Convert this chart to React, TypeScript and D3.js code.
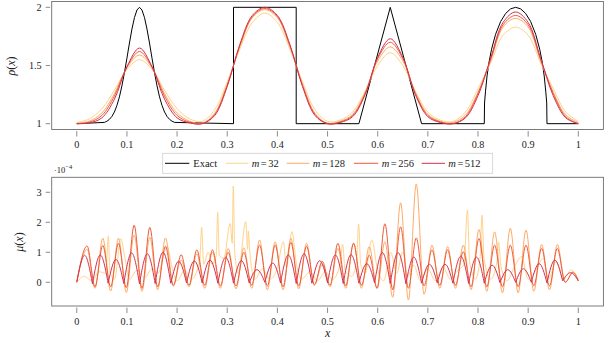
import React from 'react';
import * as d3 from 'd3';

// ---------- tick labels ----------
const xTicks = [0, 0.1, 0.2, 0.3, 0.4, 0.5, 0.6, 0.7, 0.8, 0.9, 1];
const xTickLabels = ['0', '0.1', '0.2', '0.3', '0.4', '0.5', '0.6', '0.7', '0.8', '0.9', '1'];
const rhoTicks = [1, 1.5, 2];
const rhoTickLabels = ['1', '1.5', '2'];
const muTicks = [0, 1, 2, 3];
const muTickLabels = ['0', '1', '2', '3'];

const seriesNames = ['Exact', '32', '128', '256', '512'];
const seriesColors = ['#000000', '#fed38c', '#fdaa68', '#ef5b3b', '#d33150'];

// ---------- top panel: exact solution ----------
const exactX = [0, 0.055, 0.06, 0.065, 0.07, 0.075, 0.08, 0.085, 0.09, 0.095, 0.1, 0.105, 0.11, 0.115, 0.12, 0.125,
  0.13, 0.135, 0.14, 0.145, 0.15, 0.155, 0.16, 0.165, 0.17, 0.175, 0.18, 0.185, 0.19, 0.195,
  0.3125, 0.3125, 0.4375, 0.4375,
  0.5625, 0.625, 0.6875,
  0.8125, 0.813, 0.815, 0.818, 0.822, 0.827, 0.835, 0.845, 0.855, 0.865, 0.875, 0.885, 0.895, 0.905, 0.915, 0.923, 0.928, 0.932, 0.935, 0.937, 0.9375,
  1];
const exactRho = [1, 1.011, 1.021, 1.037, 1.062, 1.1, 1.156, 1.23, 1.325, 1.438, 1.563, 1.693, 1.813, 1.912, 1.977, 2,
  1.977, 1.912, 1.813, 1.693, 1.563, 1.438, 1.325, 1.23, 1.156, 1.1, 1.062, 1.037, 1.021, 1.011,
  1, 2, 2, 1,
  1, 2, 1,
  1, 1.178, 1.28, 1.41, 1.53, 1.64, 1.768, 1.877, 1.947, 1.987, 2, 1.987, 1.947, 1.877, 1.768, 1.64, 1.53, 1.41, 1.28, 1.178, 1,
  1];

// ---------- top panel: approximations on a 0.025 grid ----------
const gridX = [0, 0.025, 0.05, 0.075, 0.1, 0.125, 0.15, 0.175, 0.2, 0.225, 0.25, 0.275, 0.3, 0.325, 0.35, 0.375, 0.4,
  0.425, 0.45, 0.475, 0.5, 0.525, 0.55, 0.575, 0.6, 0.625, 0.65, 0.675, 0.7, 0.725, 0.75, 0.775, 0.8, 0.825, 0.85,
  0.875, 0.9, 0.925, 0.95, 0.975, 1];
const rho32 = [1.01, 1.041, 1.128, 1.287, 1.467, 1.55, 1.467, 1.287, 1.128, 1.041, 1.02, 1.12, 1.36, 1.64, 1.87, 1.95, 1.87,
  1.64, 1.36, 1.12, 1.02, 1.03, 1.1, 1.28, 1.5, 1.61, 1.5, 1.28, 1.1, 1.03, 1.02, 1.1, 1.3, 1.52, 1.76, 1.83, 1.76, 1.52,
  1.3, 1.1, 1.02];
const rho128 = [1.005, 1.022, 1.092, 1.258, 1.48, 1.59, 1.48, 1.258, 1.092, 1.022, 1.005, 1.09, 1.34, 1.66, 1.91, 1.98, 1.91,
  1.66, 1.34, 1.09, 1.005, 1.02, 1.08, 1.27, 1.54, 1.66, 1.54, 1.27, 1.08, 1.02, 1.01, 1.075, 1.27, 1.54, 1.83, 1.905,
  1.83, 1.54, 1.27, 1.075, 1.01];
const rho256 = [1, 1.013, 1.071, 1.237, 1.487, 1.62, 1.487, 1.237, 1.071, 1.013, 1, 1.08, 1.33, 1.67, 1.92, 1.99, 1.92,
  1.67, 1.33, 1.08, 1, 1.015, 1.07, 1.26, 1.56, 1.7, 1.56, 1.26, 1.07, 1.015, 1, 1.06, 1.26, 1.55, 1.85, 1.93, 1.85, 1.55,
  1.26, 1.06, 1];
const rho512 = [1, 1.007, 1.05, 1.21, 1.49, 1.65, 1.49, 1.21, 1.05, 1.007, 1, 1.07, 1.32, 1.68, 1.93, 2, 1.93, 1.68, 1.32,
  1.07, 1, 1.01, 1.06, 1.25, 1.57, 1.73, 1.57, 1.25, 1.06, 1.01, 1, 1.05, 1.24, 1.56, 1.87, 1.96, 1.87, 1.56, 1.24, 1.05, 1];

// ---------- bottom panel (units of 1e-4) ----------
// m = 32: irregular, spiky curve read point by point
const mu32X = [0, 0.015, 0.03, 0.045, 0.058, 0.063, 0.066, 0.075, 0.088, 0.095, 0.105, 0.12, 0.135, 0.15, 0.162, 0.18, 0.19,
  0.2, 0.215, 0.228, 0.245, 0.249, 0.253, 0.262, 0.27, 0.278, 0.281, 0.284, 0.293, 0.306, 0.31, 0.312, 0.315, 0.322,
  0.337, 0.3405, 0.342, 0.345, 0.355, 0.37, 0.385, 0.4, 0.412, 0.418, 0.429, 0.438, 0.448, 0.465, 0.48, 0.495, 0.51,
  0.525, 0.53, 0.535, 0.548, 0.558, 0.562, 0.566, 0.575, 0.588, 0.6, 0.612, 0.626, 0.638, 0.65, 0.66, 0.672, 0.685,
  0.7, 0.715, 0.73, 0.745, 0.76, 0.772, 0.779, 0.783, 0.795, 0.804, 0.808, 0.812, 0.825, 0.838, 0.841, 0.846, 0.858,
  0.872, 0.887, 0.9, 0.915, 0.93, 0.94, 0.956, 0.97, 0.986, 1];
const mu32 = [0, 0.2, 0.05, 0.35, 0.3, 1.55, 0.35, 0.1, 1.45, 0.9, 0.1, 0.4, 0.15, 0.45, 0.3, 1.2, 0.5,
  0.05, 0.4, 0.1, 0.7, 1.83, 0.6, 1.0, 0.6, 0.9, 2.33, 0.9, 0.8, 1.96, 1.3, 3.21, 1.0, 0.3,
  2.02, 1.1, 1.71, 1.0, 0.1, 0.45, 0.1, 0.5, 1.36, 0.5, 1.69, 0.6, 0.1, 0.35, 0.05, 0.35, 0.1,
  0.6, 1.27, 0.4, 0.2, 0.7, 1.94, 0.6, 0.3, 1.41, 0.4, 0.05, 1.0, 0.3, 1.02, 0.2, 0.57, 0.05,
  0.45, 0.05, 0.5, 0.1, 0.41, 0.6, 2.41, 0.7, 0.1, 0.8, 2.24, 0.8, 0.1, 0.7, 1.35, 0.5, 0.05,
  0.5, 0.85, 0.1, 0.4, 0.8, 0.1, 0.69, 0.1, 0.41, 0.08];

// m = 128, 256, 512: one hump per cell of width 1/32 (peak values, then trough values at cell edges)
const mu128Peaks = [1.1, 1.47, 1.47, 1.58, 1.5, 1.48, 0.75, 0.95, 1.0, 1.13, 1.15, 1.41, 1.35, 1.47, 1.3, 0.6,
  1.13, 1.3, 1.19, 1.35, 2.65, 3.28, 1.24, 1.19, 1.24, 1.76, 1.68, 1.8, 1.74, 1.26, 1.26, 0.35];
const mu128Troughs = [0, -0.2, -0.29, -0.34, -0.3, -0.25, -0.09, -0.15, -0.2, -0.2, -0.22, -0.2, -0.25, -0.25, -0.22,
  -0.1, -0.15, -0.2, -0.2, -0.2, -0.5, -0.59, -0.4, -0.2, -0.2, -0.25, -0.3, -0.35, -0.35, -0.3, -0.25, 0, 0.05];
const mu256Peaks = [1.21, 1.23, 1.3, 1.9, 1.83, 1.2, 0.92, 1.08, 1.08, 1.0, 1.0, 1.24, 1.24, 1.33, 1.2, 0.7,
  1.3, 1.3, 0.9, 1.95, 1.85, 1.48, 1.08, 1.08, 1.02, 1.46, 1.24, 1.24, 1.24, 1.13, 1.13, 0.32];
const mu256Troughs = [0, -0.15, -0.15, -0.18, -0.2, -0.15, -0.12, -0.1, -0.1, -0.12, -0.12, -0.1, -0.12, -0.15, -0.12,
  -0.08, -0.1, -0.12, -0.1, -0.2, -0.25, -0.2, -0.12, -0.1, -0.1, -0.15, -0.15, -0.15, -0.15, -0.12, -0.12, 0, 0.05];
const mu512Peaks = [0.9, 0.91, 0.76, 0.98, 0.95, 1.0, 0.7, 0.71, 0.74, 0.83, 0.72, 0.42, 0.64, 0.91, 0.95, 0.72,
  0.91, 0.92, 0.62, 0.99, 0.99, 0.84, 0.6, 0.6, 0.87, 0.84, 0.57, 0.42, 0.45, 0.62, 0.74, 0.32];
const mu512Troughs = [0.02, -0.05, -0.03, -0.04, -0.05, -0.04, -0.03, -0.02, -0.02, -0.03, -0.03, -0.02, 0, -0.02,
  -0.04, -0.03, -0.02, -0.04, -0.03, -0.02, -0.04, -0.05, -0.03, -0.02, -0.03, -0.04, -0.03, -0.01, 0, 0, -0.02, 0.05, 0.05];
const humpShift = [0.005, 0.005, 0];

const W = 608;
const H = 343;
const FONT = "'Liberation Serif', 'DejaVu Serif', serif";
const FRAME = '#6e6e6e';

const xS = d3.scaleLinear().domain([-0.05, 1.05]).range([51.7, 603.4]);
const yTop = d3.scaleLinear().domain([0.95, 2.05]).range([129.5, 1.5]);
const yBot = d3.scaleLinear().domain([-0.79, 3.5]).range([306, 177.3]);

function humpPoints(peaks: number[], troughs: number[], shift: number): [number, number][][] {
  // returns one segment per hump: trough, peak, trough
  const n = peaks.length;
  const tx = (k: number) => (k === 0 ? 0 : k === n ? 1 : k / n + shift);
  return peaks.map((p, k) => [
    [tx(k), troughs[k]],
    [(k + 0.5) / n + shift, p],
    [tx(k + 1), troughs[k + 1]],
  ]);
}

function Axis({ y0, ticks, labels, yScale, top }: any) {
  const bottom = yScale.range()[0];
  const topY = yScale.range()[1];
  const left = xS.range()[0];
  const right = xS.range()[1];
  return (
    <g>
      <rect x={left} y={topY} width={right - left} height={bottom - topY} fill="none" stroke={FRAME} strokeWidth={0.9} />
      {xTicks.map((t, i) => (
        <g key={'x' + i}>
          <line x1={xS(t)} x2={xS(t)} y1={bottom + 1.6} y2={bottom + 7} stroke={FRAME} strokeWidth={0.8} />
          <text x={xS(t)} y={bottom + 18.6} textAnchor="middle" fontSize={10.2} fontFamily={FONT} fill="#222">
            {xTickLabels[i]}
          </text>
        </g>
      ))}
      {ticks.map((t: number, i: number) => (
        <g key={'y' + i}>
          <line x1={left - 6} x2={left - 1.6} y1={yScale(t)} y2={yScale(t)} stroke={FRAME} strokeWidth={0.8} />
          <text x={left - 10} y={yScale(t) + 3.4} textAnchor="end" fontSize={10.2} fontFamily={FONT} fill="#222">
            {labels[i]}
          </text>
        </g>
      ))}
    </g>
  );
}

export default function App() {
  const lineTop = d3.line<[number, number]>().x(d => xS(d[0])).y(d => yTop(d[1]));
  const smoothTop = d3.line<[number, number]>().x(d => xS(d[0])).y(d => yTop(d[1])).curve(d3.curveCatmullRom.alpha(0.5));
  const lineBot = d3.line<[number, number]>().x(d => xS(d[0])).y(d => yBot(d[1])).curve(d3.curveMonotoneX);

  const exactPts = exactX.map((x, i) => [x, exactRho[i]] as [number, number]);
  const approx = [rho32, rho128, rho256, rho512].map(arr => gridX.map((x, i) => [x, arr[i]] as [number, number]));

  const mu32Pts = mu32X.map((x, i) => [x, mu32[i]] as [number, number]);
  const humpSets = [
    humpPoints(mu128Peaks, mu128Troughs, humpShift[0]),
    humpPoints(mu256Peaks, mu256Troughs, humpShift[1]),
    humpPoints(mu512Peaks, mu512Troughs, humpShift[2]),
  ];
  // 128 & 256: continuous smooth curve (rounded troughs); 512: cusp-like troughs (segment per hump)
  const contPath = (segs: [number, number][][]) => {
    const pts: [number, number][] = [];
    segs.forEach((s, i) => {
      if (i === 0) pts.push(s[0]);
      pts.push(s[1], s[2]);
    });
    return lineBot(pts) || '';
  };
  const cuspPath = (segs: [number, number][][]) => segs.map(s => lineBot(s) || '').join('');
  const botPaths = [contPath(humpSets[0]), contPath(humpSets[1]), cuspPath(humpSets[2])];

  const legendItems = [
    { x1: 165, x2: 189.3, tx: 193.3 },
    { x1: 226, x2: 248.3, tx: 251.7 },
    { x1: 286.7, x2: 309.3, tx: 312.7 },
    { x1: 354, x2: 378.3, tx: 381.7 },
    { x1: 421.7, x2: 445, tx: 448.3 },
  ];

  return (
    <svg width={W} height={H} style={{ position: 'absolute', left: 0, top: 0, background: '#fff' }}>
      {/* top panel */}
      <Axis ticks={rhoTicks} labels={rhoTickLabels} yScale={yTop} />
      <path d={lineTop(exactPts) || ''} fill="none" stroke={seriesColors[0]} strokeWidth={1} />
      {approx.map((pts, i) => (
        <path key={i} d={smoothTop(pts) || ''} fill="none" stroke={seriesColors[i + 1]} strokeWidth={1} />
      ))}
      <text transform="translate(15,66) rotate(-90)" textAnchor="middle" fontSize={12} fontFamily={FONT} fill="#222">
        <tspan fontStyle="italic">ρ</tspan>(<tspan fontStyle="italic">x</tspan>)
      </text>

      {/* bottom panel */}
      <Axis ticks={muTicks} labels={muTickLabels} yScale={yBot} />
      <path d={lineBot(mu32Pts) || ''} fill="none" stroke={seriesColors[1]} strokeWidth={1} />
      {botPaths.map((d, i) => (
        <path key={i} d={d} fill="none" stroke={seriesColors[i + 2]} strokeWidth={1} />
      ))}
      <text transform="translate(23,242) rotate(-90)" textAnchor="middle" fontSize={12} fontFamily={FONT} fill="#222">
        <tspan fontStyle="italic">μ</tspan>(<tspan fontStyle="italic">x</tspan>)
      </text>
      <text x={54} y={172.5} fontSize={8.5} fontFamily={FONT} fill="#222">
        ·10<tspan dy={-3.5} fontSize={6.5}>−4</tspan>
      </text>
      <text x={xS(0.5)} y={337} textAnchor="middle" fontSize={12} fontStyle="italic" fontFamily={FONT} fill="#222">x</text>

      {/* legend */}
      <rect x={162.7} y={153.3} width={330} height={20} fill="#fff" stroke="#cfcfcf" strokeWidth={0.8} />
      {legendItems.map((it, i) => (
        <g key={i}>
          <line x1={it.x1} x2={it.x2} y1={163.3} y2={163.3} stroke={seriesColors[i]} strokeWidth={1} />
          <text x={it.tx} y={166.8} fontSize={10.5} fontFamily={FONT} fill="#222">
            {i === 0 ? 'Exact' : (
              <>
                <tspan fontStyle="italic">m</tspan>
                <tspan dx={1.5}>=</tspan>
                <tspan dx={1.5}>{seriesNames[i]}</tspan>
              </>
            )}
          </text>
        </g>
      ))}
    </svg>
  );
}
